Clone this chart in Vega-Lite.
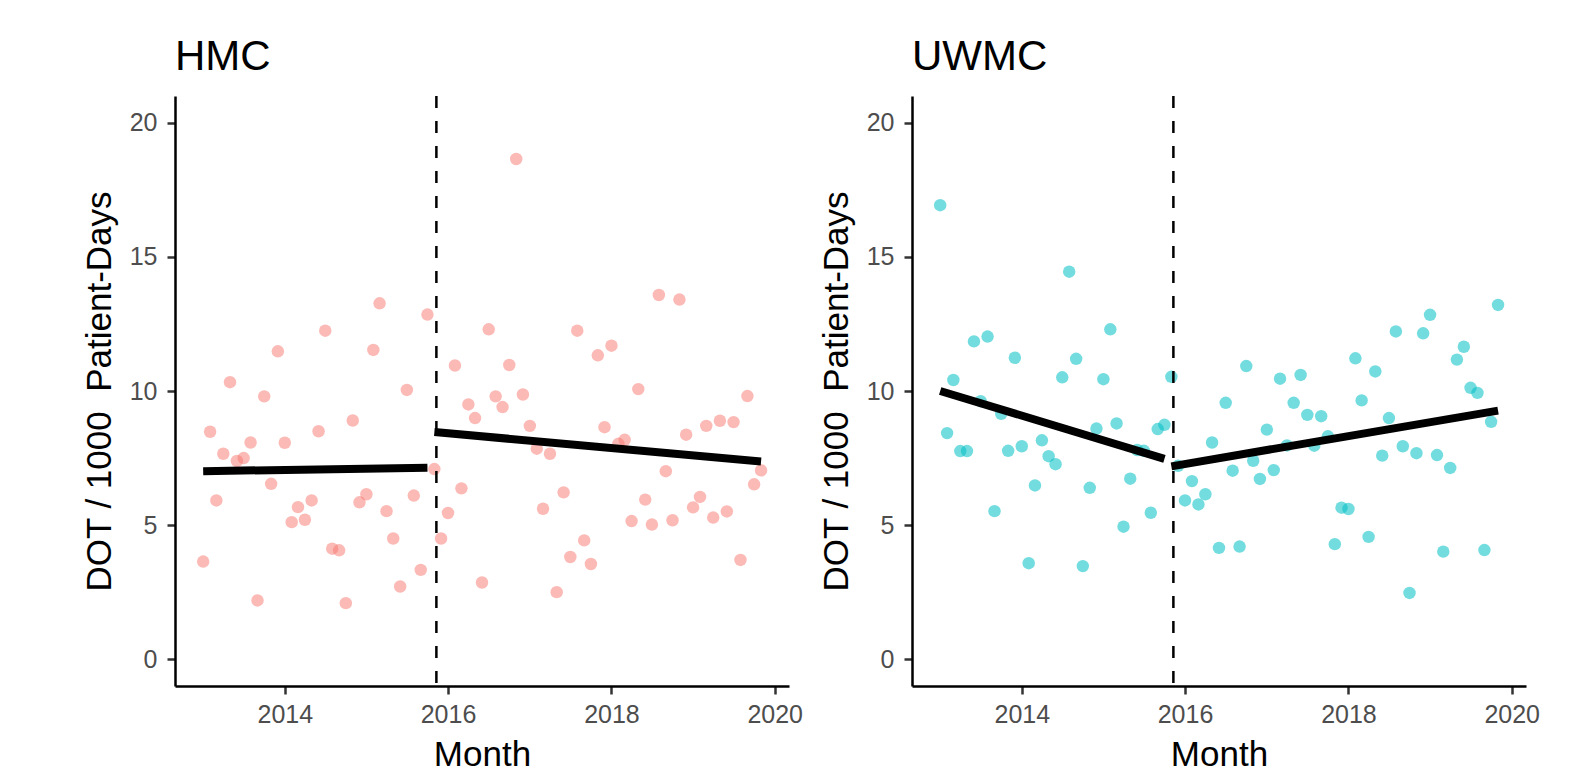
{
  "$schema": "https://vega.github.io/schema/vega-lite/v6.json",
  "background": "white",
  "padding": {"left": 82, "top": 35, "right": 40, "bottom": 5},
  "config": {
    "font": "Liberation Sans",
    "view": {"stroke": null},
    "title": {"fontSize": 42, "fontWeight": "normal", "anchor": "start", "frame": "group", "color": "black", "offset": 16},
    "axis": {
      "grid": false,
      "labelFontSize": 25,
      "labelColor": "#4d4d4d",
      "titleFontSize": 35,
      "titleFontWeight": "normal",
      "titleColor": "black",
      "domainColor": "black",
      "domainWidth": 2.5,
      "tickColor": "#333333",
      "tickWidth": 2.5,
      "tickSize": 8,
      "labelPadding": 8
    },
    "axisX": {"titlePadding": 10},
    "axisY": {"titlePadding": 12, "labelPadding": 10}
  },
  "datasets": {
    "pts": [
      {"site":"HMC","month":"2013-01-01","dot":3.64},{"site":"HMC","month":"2013-02-01","dot":8.48},{"site":"HMC","month":"2013-03-01","dot":5.92},{"site":"HMC","month":"2013-04-01","dot":7.66},{"site":"HMC","month":"2013-05-01","dot":10.33},{"site":"HMC","month":"2013-06-01","dot":7.39},{"site":"HMC","month":"2013-07-01","dot":7.5},{"site":"HMC","month":"2013-08-01","dot":8.08},{"site":"HMC","month":"2013-09-01","dot":2.19},{"site":"HMC","month":"2013-10-01","dot":9.8},{"site":"HMC","month":"2013-11-01","dot":6.54},{"site":"HMC","month":"2013-12-01","dot":11.48},
      {"site":"HMC","month":"2014-01-01","dot":8.07},{"site":"HMC","month":"2014-02-01","dot":5.11},{"site":"HMC","month":"2014-03-01","dot":5.67},{"site":"HMC","month":"2014-04-01","dot":5.2},{"site":"HMC","month":"2014-05-01","dot":5.92},{"site":"HMC","month":"2014-06-01","dot":8.5},{"site":"HMC","month":"2014-07-01","dot":12.25},{"site":"HMC","month":"2014-08-01","dot":4.12},{"site":"HMC","month":"2014-09-01","dot":4.06},{"site":"HMC","month":"2014-10-01","dot":2.09},{"site":"HMC","month":"2014-11-01","dot":8.9},{"site":"HMC","month":"2014-12-01","dot":5.85},
      {"site":"HMC","month":"2015-01-01","dot":6.15},{"site":"HMC","month":"2015-02-01","dot":11.53},{"site":"HMC","month":"2015-03-01","dot":13.27},{"site":"HMC","month":"2015-04-01","dot":5.52},{"site":"HMC","month":"2015-05-01","dot":4.5},{"site":"HMC","month":"2015-06-01","dot":2.71},{"site":"HMC","month":"2015-07-01","dot":10.04},{"site":"HMC","month":"2015-08-01","dot":6.1},{"site":"HMC","month":"2015-09-01","dot":3.33},{"site":"HMC","month":"2015-10-01","dot":12.85},{"site":"HMC","month":"2015-11-01","dot":7.09},{"site":"HMC","month":"2015-12-01","dot":4.5},
      {"site":"HMC","month":"2016-01-01","dot":5.45},{"site":"HMC","month":"2016-02-01","dot":10.95},{"site":"HMC","month":"2016-03-01","dot":6.37},{"site":"HMC","month":"2016-04-01","dot":9.5},{"site":"HMC","month":"2016-05-01","dot":8.99},{"site":"HMC","month":"2016-06-01","dot":2.86},{"site":"HMC","month":"2016-07-01","dot":12.3},{"site":"HMC","month":"2016-08-01","dot":9.8},{"site":"HMC","month":"2016-09-01","dot":9.4},{"site":"HMC","month":"2016-10-01","dot":10.97},{"site":"HMC","month":"2016-11-01","dot":18.65},{"site":"HMC","month":"2016-12-01","dot":9.87},
      {"site":"HMC","month":"2017-01-01","dot":8.7},{"site":"HMC","month":"2017-02-01","dot":7.85},{"site":"HMC","month":"2017-03-01","dot":5.61},{"site":"HMC","month":"2017-04-01","dot":7.66},{"site":"HMC","month":"2017-05-01","dot":2.5},{"site":"HMC","month":"2017-06-01","dot":6.22},{"site":"HMC","month":"2017-07-01","dot":3.81},{"site":"HMC","month":"2017-08-01","dot":12.25},{"site":"HMC","month":"2017-09-01","dot":4.43},{"site":"HMC","month":"2017-10-01","dot":3.55},{"site":"HMC","month":"2017-11-01","dot":11.33},{"site":"HMC","month":"2017-12-01","dot":8.65},
      {"site":"HMC","month":"2018-01-01","dot":11.69},{"site":"HMC","month":"2018-02-01","dot":8.03},{"site":"HMC","month":"2018-03-01","dot":8.18},{"site":"HMC","month":"2018-04-01","dot":5.15},{"site":"HMC","month":"2018-05-01","dot":10.07},{"site":"HMC","month":"2018-06-01","dot":5.95},{"site":"HMC","month":"2018-07-01","dot":5.02},{"site":"HMC","month":"2018-08-01","dot":13.58},{"site":"HMC","month":"2018-09-01","dot":7.01},{"site":"HMC","month":"2018-10-01","dot":5.18},{"site":"HMC","month":"2018-11-01","dot":13.41},{"site":"HMC","month":"2018-12-01","dot":8.37},
      {"site":"HMC","month":"2019-01-01","dot":5.66},{"site":"HMC","month":"2019-02-01","dot":6.05},{"site":"HMC","month":"2019-03-01","dot":8.7},{"site":"HMC","month":"2019-04-01","dot":5.28},{"site":"HMC","month":"2019-05-01","dot":8.89},{"site":"HMC","month":"2019-06-01","dot":5.51},{"site":"HMC","month":"2019-07-01","dot":8.84},{"site":"HMC","month":"2019-08-01","dot":3.7},{"site":"HMC","month":"2019-09-01","dot":9.81},{"site":"HMC","month":"2019-10-01","dot":6.52},{"site":"HMC","month":"2019-11-01","dot":7.04},
      {"site":"UWMC","month":"2013-01-01","dot":16.93},{"site":"UWMC","month":"2013-02-01","dot":8.43},{"site":"UWMC","month":"2013-03-01","dot":10.41},{"site":"UWMC","month":"2013-04-01","dot":7.76},{"site":"UWMC","month":"2013-05-01","dot":7.76},{"site":"UWMC","month":"2013-06-01","dot":11.85},{"site":"UWMC","month":"2013-07-01","dot":9.62},{"site":"UWMC","month":"2013-08-01","dot":12.03},{"site":"UWMC","month":"2013-09-01","dot":5.52},{"site":"UWMC","month":"2013-10-01","dot":9.15},{"site":"UWMC","month":"2013-11-01","dot":7.77},{"site":"UWMC","month":"2013-12-01","dot":11.24},
      {"site":"UWMC","month":"2014-01-01","dot":7.94},{"site":"UWMC","month":"2014-02-01","dot":3.58},{"site":"UWMC","month":"2014-03-01","dot":6.48},{"site":"UWMC","month":"2014-04-01","dot":8.16},{"site":"UWMC","month":"2014-05-01","dot":7.57},{"site":"UWMC","month":"2014-06-01","dot":7.27},{"site":"UWMC","month":"2014-07-01","dot":10.51},{"site":"UWMC","month":"2014-08-01","dot":14.45},{"site":"UWMC","month":"2014-09-01","dot":11.2},{"site":"UWMC","month":"2014-10-01","dot":3.47},{"site":"UWMC","month":"2014-11-01","dot":6.39},{"site":"UWMC","month":"2014-12-01","dot":8.6},
      {"site":"UWMC","month":"2015-01-01","dot":10.44},{"site":"UWMC","month":"2015-02-01","dot":12.3},{"site":"UWMC","month":"2015-03-01","dot":8.79},{"site":"UWMC","month":"2015-04-01","dot":4.94},{"site":"UWMC","month":"2015-05-01","dot":6.73},{"site":"UWMC","month":"2015-06-01","dot":7.8},{"site":"UWMC","month":"2015-07-01","dot":7.77},{"site":"UWMC","month":"2015-08-01","dot":5.46},{"site":"UWMC","month":"2015-09-01","dot":8.58},{"site":"UWMC","month":"2015-10-01","dot":8.74},{"site":"UWMC","month":"2015-11-01","dot":10.53},{"site":"UWMC","month":"2015-12-01","dot":7.21},
      {"site":"UWMC","month":"2016-01-01","dot":5.92},{"site":"UWMC","month":"2016-02-01","dot":6.64},{"site":"UWMC","month":"2016-03-01","dot":5.77},{"site":"UWMC","month":"2016-04-01","dot":6.15},{"site":"UWMC","month":"2016-05-01","dot":8.08},{"site":"UWMC","month":"2016-06-01","dot":4.15},{"site":"UWMC","month":"2016-07-01","dot":9.56},{"site":"UWMC","month":"2016-08-01","dot":7.03},{"site":"UWMC","month":"2016-09-01","dot":4.2},{"site":"UWMC","month":"2016-10-01","dot":10.93},{"site":"UWMC","month":"2016-11-01","dot":7.4},{"site":"UWMC","month":"2016-12-01","dot":6.72},
      {"site":"UWMC","month":"2017-01-01","dot":8.56},{"site":"UWMC","month":"2017-02-01","dot":7.05},{"site":"UWMC","month":"2017-03-01","dot":10.46},{"site":"UWMC","month":"2017-04-01","dot":7.97},{"site":"UWMC","month":"2017-05-01","dot":9.56},{"site":"UWMC","month":"2017-06-01","dot":10.6},{"site":"UWMC","month":"2017-07-01","dot":9.11},{"site":"UWMC","month":"2017-08-01","dot":7.96},{"site":"UWMC","month":"2017-09-01","dot":9.06},{"site":"UWMC","month":"2017-10-01","dot":8.31},{"site":"UWMC","month":"2017-11-01","dot":4.29},{"site":"UWMC","month":"2017-12-01","dot":5.65},
      {"site":"UWMC","month":"2018-01-01","dot":5.6},{"site":"UWMC","month":"2018-02-01","dot":11.22},{"site":"UWMC","month":"2018-03-01","dot":9.65},{"site":"UWMC","month":"2018-04-01","dot":4.56},{"site":"UWMC","month":"2018-05-01","dot":10.73},{"site":"UWMC","month":"2018-06-01","dot":7.59},{"site":"UWMC","month":"2018-07-01","dot":8.99},{"site":"UWMC","month":"2018-08-01","dot":12.22},{"site":"UWMC","month":"2018-09-01","dot":7.94},{"site":"UWMC","month":"2018-10-01","dot":2.47},{"site":"UWMC","month":"2018-11-01","dot":7.68},{"site":"UWMC","month":"2018-12-01","dot":12.15},
      {"site":"UWMC","month":"2019-01-01","dot":12.84},{"site":"UWMC","month":"2019-02-01","dot":7.61},{"site":"UWMC","month":"2019-03-01","dot":4.01},{"site":"UWMC","month":"2019-04-01","dot":7.13},{"site":"UWMC","month":"2019-05-01","dot":11.17},{"site":"UWMC","month":"2019-06-01","dot":11.65},{"site":"UWMC","month":"2019-07-01","dot":10.12},{"site":"UWMC","month":"2019-08-01","dot":9.93},{"site":"UWMC","month":"2019-09-01","dot":4.07},{"site":"UWMC","month":"2019-10-01","dot":8.85},{"site":"UWMC","month":"2019-11-01","dot":13.21}
    ],
    "fit": [
      {"site":"HMC","segment":"pre","month":"2013-01-01","dot":7.01},
      {"site":"HMC","segment":"pre","month":"2015-10-01","dot":7.14},
      {"site":"HMC","segment":"post","month":"2015-11-01","dot":8.47},
      {"site":"HMC","segment":"post","month":"2019-11-01","dot":7.37},
      {"site":"UWMC","segment":"pre","month":"2013-01-01","dot":10.0},
      {"site":"UWMC","segment":"pre","month":"2015-10-01","dot":7.47},
      {"site":"UWMC","segment":"post","month":"2015-11-01","dot":7.19},
      {"site":"UWMC","segment":"post","month":"2019-11-01","dot":9.27}
    ],
    "events": [{"month":"2015-11-10"}]
  },
  "spacing": 123,
  "bounds": "flush",
  "hconcat": [
    {
      "width": 614,
      "height": 590,
      "title": {"text": "HMC"},
      "layer": [
        {
          "data": {"name": "pts"},
          "transform": [{"filter": "datum.site === 'HMC'"}],
          "mark": {"type": "circle", "size": 155, "opacity": 0.5, "color": "#F8766D"},
          "encoding": {
            "x": {"field": "month", "type": "temporal", "title": "Month",
                  "scale": {"type": "utc", "domain": [{"year": 2012, "month": 8, "date": 28, "utc": true}, {"year": 2020, "month": 3, "date": 5, "utc": true}]},
                  "axis": {"format": "%Y", "values": [{"year": 2014, "month": 1, "date": 1, "utc": true}, {"year": 2016, "month": 1, "date": 1, "utc": true}, {"year": 2018, "month": 1, "date": 1, "utc": true}, {"year": 2020, "month": 1, "date": 1, "utc": true}]}},
            "y": {"field": "dot", "type": "quantitative", "title": "DOT / 1000\u00a0 Patient-Days",
                  "scale": {"domain": [-1, 21], "nice": false, "zero": false},
                  "axis": {"values": [0, 5, 10, 15, 20]}}
          }
        },
        {
          "data": {"name": "events"},
          "mark": {"type": "rule", "strokeDash": [12, 13], "strokeWidth": 2.5, "color": "black"},
          "encoding": {"x": {"field": "month", "type": "temporal", "title": "Month"}}
        },
        {
          "data": {"name": "fit"},
          "transform": [{"filter": "datum.site === 'HMC'"}],
          "mark": {"type": "line", "strokeWidth": 8, "color": "black", "strokeCap": "butt"},
          "encoding": {
            "x": {"field": "month", "type": "temporal", "title": "Month"},
            "y": {"field": "dot", "type": "quantitative", "title": "DOT / 1000\u00a0 Patient-Days"},
            "detail": {"field": "segment"}
          }
        }
      ]
    },
    {
      "width": 614,
      "height": 590,
      "title": {"text": "UWMC"},
      "layer": [
        {
          "data": {"name": "pts"},
          "transform": [{"filter": "datum.site === 'UWMC'"}],
          "mark": {"type": "circle", "size": 155, "opacity": 0.55, "color": "#00BFC4"},
          "encoding": {
            "x": {"field": "month", "type": "temporal", "title": "Month",
                  "scale": {"type": "utc", "domain": [{"year": 2012, "month": 8, "date": 28, "utc": true}, {"year": 2020, "month": 3, "date": 5, "utc": true}]},
                  "axis": {"format": "%Y", "values": [{"year": 2014, "month": 1, "date": 1, "utc": true}, {"year": 2016, "month": 1, "date": 1, "utc": true}, {"year": 2018, "month": 1, "date": 1, "utc": true}, {"year": 2020, "month": 1, "date": 1, "utc": true}]}},
            "y": {"field": "dot", "type": "quantitative", "title": "DOT / 1000\u00a0 Patient-Days",
                  "scale": {"domain": [-1, 21], "nice": false, "zero": false},
                  "axis": {"values": [0, 5, 10, 15, 20]}}
          }
        },
        {
          "data": {"name": "events"},
          "mark": {"type": "rule", "strokeDash": [12, 13], "strokeWidth": 2.5, "color": "black"},
          "encoding": {"x": {"field": "month", "type": "temporal", "title": "Month"}}
        },
        {
          "data": {"name": "fit"},
          "transform": [{"filter": "datum.site === 'UWMC'"}],
          "mark": {"type": "line", "strokeWidth": 8, "color": "black", "strokeCap": "butt"},
          "encoding": {
            "x": {"field": "month", "type": "temporal", "title": "Month"},
            "y": {"field": "dot", "type": "quantitative", "title": "DOT / 1000\u00a0 Patient-Days"},
            "detail": {"field": "segment"}
          }
        }
      ]
    }
  ]
}
